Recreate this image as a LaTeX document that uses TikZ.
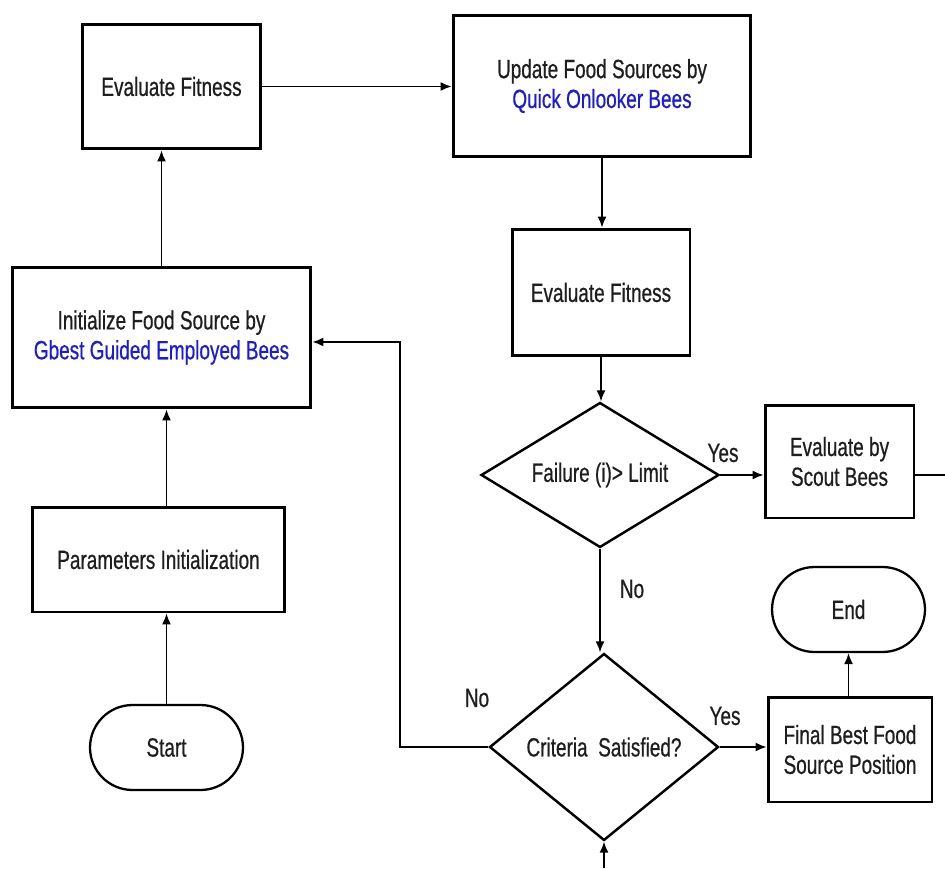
\documentclass[tikz,border=0pt]{standalone}
\usepackage{fontspec}
\newfontfamily\chartfont{Liberation Sans}[FakeStretch=0.72,FakeBold=0.6]
\usetikzlibrary{arrows.meta}
\usetikzlibrary{shapes.geometric}
\tikzset{>={Latex[length=2.2mm,width=1.8mm]}}
\definecolor{beeblue}{RGB}{28,28,215}
\definecolor{beetext}{RGB}{30,30,30}
\tikzset{
  flowbox/.style={draw,line width=1.7pt,inner sep=0pt,align=center},
  decide/.style={draw,diamond,line width=1.4pt,inner sep=0pt,align=center},
  termin/.style={draw,rounded corners=0.85cm,line width=1.3pt,inner sep=0pt,
    minimum width=3.06cm,minimum height=1.7cm},
  link/.style={->,line width=0.85pt},
  answer/.style={inner sep=0pt}
}

\begin{document}
\begin{tikzpicture}[x=0.02cm,y=-0.02cm,
    every node/.style={font=\chartfont\fontsize{15}{17}\selectfont,text=beetext}]
  \useasboundingbox [fill=white] (0,0) rectangle (945,868);

  \node [termin] (start) at (166.5,747.5) {Start};
  \node [flowbox,minimum width=5.06cm,minimum height=2.1cm] (param) at (158.5,559.5) {Parameters Initialization};
  \node [flowbox,minimum width=5.98cm,minimum height=2.82cm] (init) at (161.5,337.5)
    {Initialize Food Source by\\ \textcolor{beeblue}{Gbest Guided Employed Bees}};
  \node [flowbox,minimum width=3.58cm,minimum height=2.5cm] (evalA) at (171.5,86.5) {Evaluate Fitness};
  \node [flowbox,minimum width=5.96cm,minimum height=2.84cm] (onlook) at (602,86)
    {Update Food Sources by\\ \textcolor{beeblue}{Quick Onlooker Bees}};
  \node [flowbox,minimum width=3.56cm,minimum height=2.54cm] (evalB) at (601,292.5) {Evaluate Fitness};
  \node [decide,aspect=1.64,minimum width=4.76cm,minimum height=2.9cm] (fail) at (600,475) {Failure (i)> Limit};
  \node [flowbox,minimum width=2.98cm,minimum height=2.26cm] (scout) at (839.5,461.5) {Evaluate by\\ Scout Bees};
  \node [decide,aspect=1.22,minimum width=4.58cm,minimum height=3.74cm] (crit) at (604,747) {Criteria~~Satisfied?};
  \node [flowbox,minimum width=3.28cm,minimum height=2.1cm] (final) at (850,749.5) {Final Best Food\\ Source Position};
  \node [termin] (stop) at (848.5,609.5) {End};

  \node [answer] (yesA) at (723,453) {Yes};
  \node [answer] (noA) at (632,589) {No};
  \node [answer] (noB) at (477,698) {No};
  \node [answer] (yesB) at (725,716) {Yes};

  \coordinate (loopc) at (400,342);
  \coordinate (scoutout) at (945,475);
  \coordinate (critin) at (604,868);

  \draw [link] (start.north) -- (start.north |- param.south);
  \draw [link] (param.north -| start.north) -- (init.south -| start.north);
  \draw [link] (init.north) -- (init.north |- evalA.south);
  \draw [link] (evalA.east) -- (onlook.west |- evalA.east);
  \draw [link] (onlook.south) -- (onlook.south |- evalB.north);
  \draw [link] (evalB.south) -- (evalB.south |- fail.north);
  \draw [link] (fail.east) -- (fail.east -| scout.west);
  \draw [line width=0.85pt] (fail.east -| scout.east) -- (scoutout);
  \draw [link] (fail.south) -- (fail.south |- crit.north);
  \draw [link] (crit.east) -- (crit.east -| final.west);
  \draw [link] (final.north -| stop.south) -- (stop.south);
  \draw [link] (crit.west) -| (loopc) -- (loopc -| init.east);
  \draw [link] (critin) -- (crit.south);
\end{tikzpicture}
\end{document}
